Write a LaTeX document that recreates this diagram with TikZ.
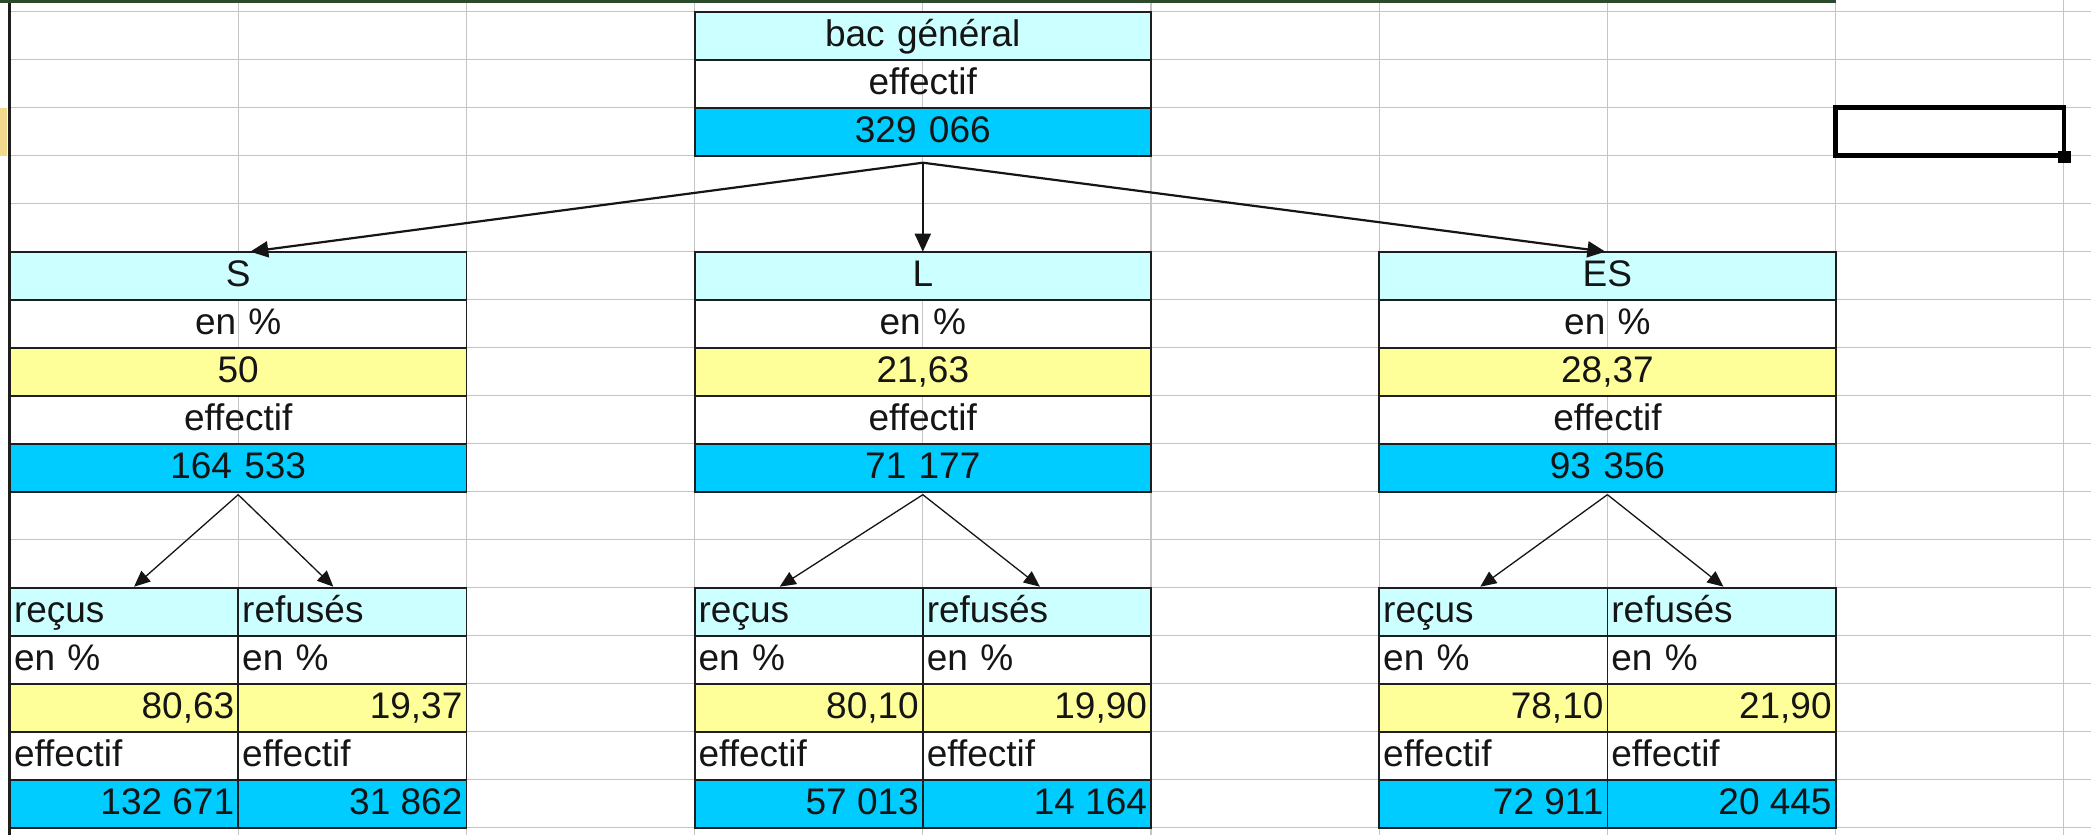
\documentclass[tikz,border=0pt]{standalone}
\usepackage{fontspec}
\setmainfont{Liberation Sans}
\usetikzlibrary{arrows.meta}

\definecolor{gridgray}{HTML}{C4C4C4}
\definecolor{boxline}{HTML}{1E1E1E}
\definecolor{ink}{HTML}{151515}
\definecolor{headcyan}{HTML}{CCFFFF}
\definecolor{valblue}{HTML}{00CCFF}
\definecolor{valyellow}{HTML}{FFFF99}
\definecolor{framegreen}{HTML}{2C4A2C}
\definecolor{rowmark}{HTML}{F3D98E}

\newcommand\cellfont{\fontsize{37}{40}\selectfont}

% one branch: name, left x, title, share, count, passed %, failed %, passed count, failed count
\newcommand\branch[9]{%
  \pgfmathsetmacro\bxx{#2+228.2}%
  \node[cell,two,mid,fill=headcyan]  (#1-t)  at (#2,251.7) {#3};
  \node[cell,two,mid]                (#1-pl) at (#2,299.7) {en \%};
  \node[cell,two,mid,fill=valyellow] (#1-p)  at (#2,347.7) {#4};
  \node[cell,two,mid]                (#1-el) at (#2,395.7) {effectif};
  \node[cell,two,mid,fill=valblue]   (#1-e)  at (#2,443.7) {#5};
  % passed
  \node[cell,one,lft,fill=headcyan]  (#1-rt)  at (#2,587.7) {reçus};
  \node[cell,one,lft]                (#1-rpl) at (#2,635.7) {en \%};
  \node[cell,one,rgt,fill=valyellow] (#1-rp)  at (#2,683.7) {#6};
  \node[cell,one,lft]                (#1-rel) at (#2,731.7) {effectif};
  \node[cell,one,rgt,fill=valblue]   (#1-re)  at (#2,779.7) {#8};
  % failed
  \node[cell,one,lft,fill=headcyan]  (#1-ft)  at (\bxx,587.7) {refusés};
  \node[cell,one,lft]                (#1-fpl) at (\bxx,635.7) {en \%};
  \node[cell,one,rgt,fill=valyellow] (#1-fp)  at (\bxx,683.7) {#7};
  \node[cell,one,lft]                (#1-fel) at (\bxx,731.7) {effectif};
  \node[cell,one,rgt,fill=valblue]   (#1-fe)  at (\bxx,779.7) {#9};
  \coordinate (#1-apex) at ([yshift=-3pt]#1-e.south);
}

\begin{document}
\begin{tikzpicture}[x=1pt,y=-1pt,
  cell/.style={draw=boxline, line width=1.8pt, inner xsep=4pt, inner ysep=0pt,
    outer sep=0pt, text height=35pt, text depth=13pt, anchor=north west,
    font=\cellfont, text=ink},
  one/.style={text width=220.2pt},
  two/.style={text width=448.4pt},
  mid/.style={align=center},
  lft/.style={align=left},
  rgt/.style={align=flush right},
  toparrow/.style={draw=ink, line width=2.2pt, -{Triangle[length=18pt,width=16pt]}},
  lowarrow/.style={draw=ink, line width=1.3pt, -{Triangle[length=16pt,width=14pt]}},
  gridline/.style={draw=gridgray, line width=1.2pt}]

\useasboundingbox (0,0) rectangle (2091,835);
\fill[white] (0,0) rectangle (2091,835);

% sheet grid
\foreach \k in {0,...,17}
  \draw[gridline] (10,{11.7+48*\k}) -- (2091,{11.7+48*\k});
\foreach \c in {1,...,9}
  \draw[gridline] ({10+228.2*\c},0) -- ({10+228.2*\c},835);
\fill[rowmark] (0,107.7) rectangle (7,155.7);
\draw[boxline, line width=2.4pt] (9.5,0) -- (9.5,835);
\draw[framegreen, line width=3pt] (0,1.5) -- (1835.6,1.5);

% root
\node[cell,two,mid,fill=headcyan] (root-t) at (694.6,11.7) {bac général};
\node[cell,two,mid]               (root-l) at (694.6,59.7) {effectif};
\node[cell,two,mid,fill=valblue]  (root-v) at (694.6,107.7) {329 066};
\coordinate (root-apex) at ([yshift=-7pt]root-v.south);

% branches
\branch{S}{10}{S}{50}{164 533}{80,63}{19,37}{132 671}{31 862}
\branch{L}{694.6}{L}{21,63}{71 177}{80,10}{19,90}{57 013}{14 164}
\branch{ES}{1379.2}{ES}{28,37}{93 356}{78,10}{21,90}{72 911}{20 445}

% connectors
\draw[toparrow] (root-apex) -- ([xshift=12pt]S-t.north);
\draw[toparrow] (root-apex) -- (L-t.north);
\draw[toparrow] (root-apex) -- ([xshift=-2pt]ES-t.north);

\draw[lowarrow] (S-apex) -- ([xshift=10pt,yshift=1pt]S-rt.north);
\draw[lowarrow] (S-apex) -- ([xshift=-19pt,yshift=1pt]S-ft.north);
\draw[lowarrow] (L-apex) -- ([xshift=-29pt,yshift=1pt]L-rt.north);
\draw[lowarrow] (L-apex) -- ([xshift=3pt,yshift=1pt]L-ft.north);
\draw[lowarrow] (ES-apex) -- ([xshift=-13pt,yshift=1pt]ES-rt.north);
\draw[lowarrow] (ES-apex) -- ([xshift=2pt,yshift=1pt]ES-ft.north);

% active cell with its fill handle
\draw[black, line width=4.5pt] (1835.6,107.7) rectangle (2063.8,155.7);
\fill[black] (2058,151) rectangle (2071,163);
\end{tikzpicture}
\end{document}
